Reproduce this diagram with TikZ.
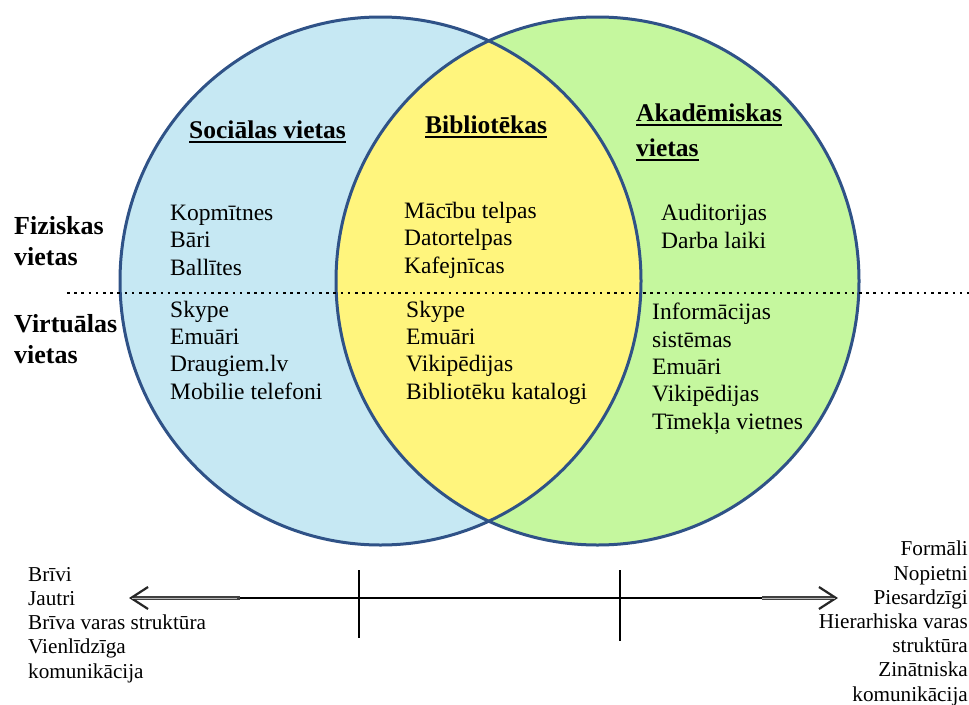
\documentclass[tikz,border=0pt]{standalone}
\usepackage{fontspec}
\setmainfont{Liberation Serif}
\usetikzlibrary{arrows.meta,positioning}
\definecolor{socblue}{RGB}{198,232,243}
\definecolor{akgreen}{RGB}{197,247,158}
\definecolor{libyellow}{RGB}{255,245,125}
\definecolor{rim}{RGB}{47,82,135}
\newcommand{\thickul}[1]{\setbox0\hbox{#1}\leavevmode\rlap{\rule[-5.2pt]{\wd0}{2.4pt}}\box0}
\tikzset{
  heading/.style={anchor=base west, inner sep=0pt, align=left, font=\fontsize{25.5}{35}\selectfont\bfseries},
  side/.style={anchor=base west, inner sep=0pt, align=left, font=\fontsize{26}{31}\selectfont\bfseries},
  items/.style={anchor=base west, inner sep=0pt, align=left, font=\fontsize{23.5}{27.3}\selectfont},
  scaleitems/.style={inner sep=0pt, font=\fontsize{21.2}{24.2}\selectfont},
  tick/.style={line width=2.5pt},
  barb/.tip={Straight Barb[length=17pt,width=22pt,line width=2.2pt,color=black!85]},
}
\begin{document}
\begin{tikzpicture}[x=1pt,y=-1pt]
	\fill[white] (0,0) rectangle (969,704);
	\useasboundingbox (0,0) rectangle (969,704);
	% the two places
	\fill[socblue] (380.5,281) ellipse (260.5 and 264);
	\fill[akgreen] (597.5,281) ellipse (261.5 and 264);
	\begin{scope}
		\clip (380.5,281) ellipse (260.5 and 264);
		\fill[libyellow] (597.5,281) ellipse (261.5 and 264);
	\end{scope}
	\draw[rim, line width=3pt] (380.5,281) ellipse (260.5 and 264);
	\draw[rim, line width=3pt] (597.5,281) ellipse (261.5 and 264);
	% physical / virtual border
	\draw[line width=2.6pt, dash pattern=on 2.6pt off 4.6pt] (67,293) -- (969,293);
	% headings (base = last line)
	\node[heading] (soc) at (189,138) {\thickul{Sociālas vietas}};
	\node[heading] (lib) at (425,133) {\thickul{Bibliotēkas}};
	\node[heading] (aka) at (636,156) {\thickul{Akadēmiskas}\\\thickul{vietas}};
	\node[side] (fiz) at (14,265) {Fiziskas\\vietas};
	\node[side] (virt) at (14,363) {Virtuālas\\vietas};
	% physical places
	\node[items] (socfiz) at (170,275) {Kopmītnes\\Bāri\\Ballītes};
	\node[items] (libfiz) at (404,273) {Mācību telpas\\Datortelpas\\Kafejnīcas};
	\node[items] (akafiz) at (661,248) {Auditorijas\\Darba laiki};
	% virtual places
	\node[items] (socvirt) at (170,399) {Skype\\Emuāri\\Draugiem.lv\\Mobilie telefoni};
	\node[items] (libvirt) at (406,399) {Skype\\Emuāri\\Vikipēdijas\\Bibliotēku katalogi};
	\node[items] (akavirt) at (652,429) {Informācijas\\sistēmas\\Emuāri\\Vikipēdijas\\Tīmekļa vietnes};
	% scale below
	\node[scaleitems, anchor=base west, align=left] (free) at (28,678) {Brīvi\\Jautri\\Brīva varas struktūra\\Vienlīdzīga\\komunikācija};
	\node[scaleitems, anchor=base east, align=right] (formal) at (968,701) {Formāli\\Nopietni\\Piesardzīgi\\Hierarhiska varas\\struktūra\\Zinātniska\\komunikācija};
	\coordinate (lend) at (129,598);
	\coordinate (rend) at (838,598);
	\coordinate (lin) at (240,598);
	\coordinate (rin) at (762,598);
	\draw[black!75, line width=3.4pt, barb-barb] (lend) -- (rend);
	\draw[gray!55, line width=1pt, shorten <=3pt, shorten >=3pt] (lend) -- (lin);
	\draw[gray!55, line width=1pt, shorten <=0pt, shorten >=3pt] (rin) -- (rend);
	\draw[white, line width=3.4pt] (lin) -- (rin);
	\draw[line width=2pt] (lin) -- (rin);
	\draw[tick] (359,570) -- (359,638);
	\draw[tick] (620,570) -- (620,641);
\end{tikzpicture}
\end{document}
